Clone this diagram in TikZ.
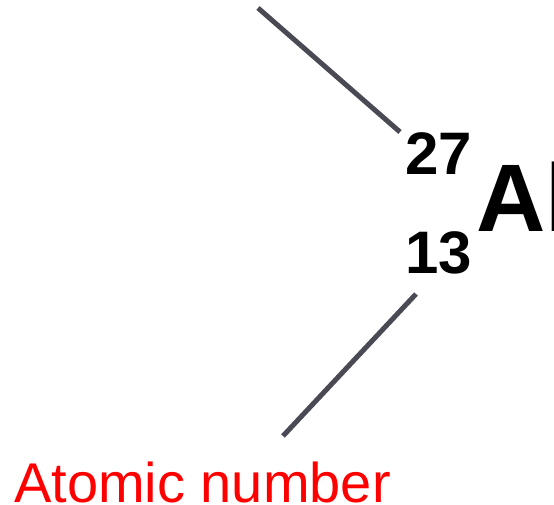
\documentclass[tikz,border=0pt]{standalone}
\usepackage{fontspec}
\setmainfont{Liberation Sans}
\usetikzlibrary{positioning}
\definecolor{lineGray}{RGB}{74,74,84}
\definecolor{labelRed}{RGB}{255,0,0}

\begin{document}
\begin{tikzpicture}[x=1pt, y=-1pt, every node/.style={inner sep=0pt, anchor=base west},
    pointer/.style={line width=5pt, lineGray}]
    \useasboundingbox (0,0) rectangle (554,505);
    \clip (0,0) rectangle (554,505);
    \node[font=\fontsize{60}{60}\selectfont\bfseries] (mass) at (405,175) {27};
    \node[font=\fontsize{60}{60}\selectfont\bfseries] (z) at (405,273) {13};
    \node[font=\fontsize{96}{96}\selectfont\bfseries] (sym) at (476,232) {Al};
    \node[font=\fontsize{56}{56}\selectfont, text=labelRed] (lbl) at (14,502) {Atomic number};
    \coordinate (top) at (258,8);
    \coordinate (massend) at (400,132);
    \coordinate (zend) at (416,294);
    \coordinate (lblend) at (283,436);
    \draw[pointer] (top) -- (massend);
    \draw[pointer] (zend) -- (lblend);
\end{tikzpicture}
\end{document}
